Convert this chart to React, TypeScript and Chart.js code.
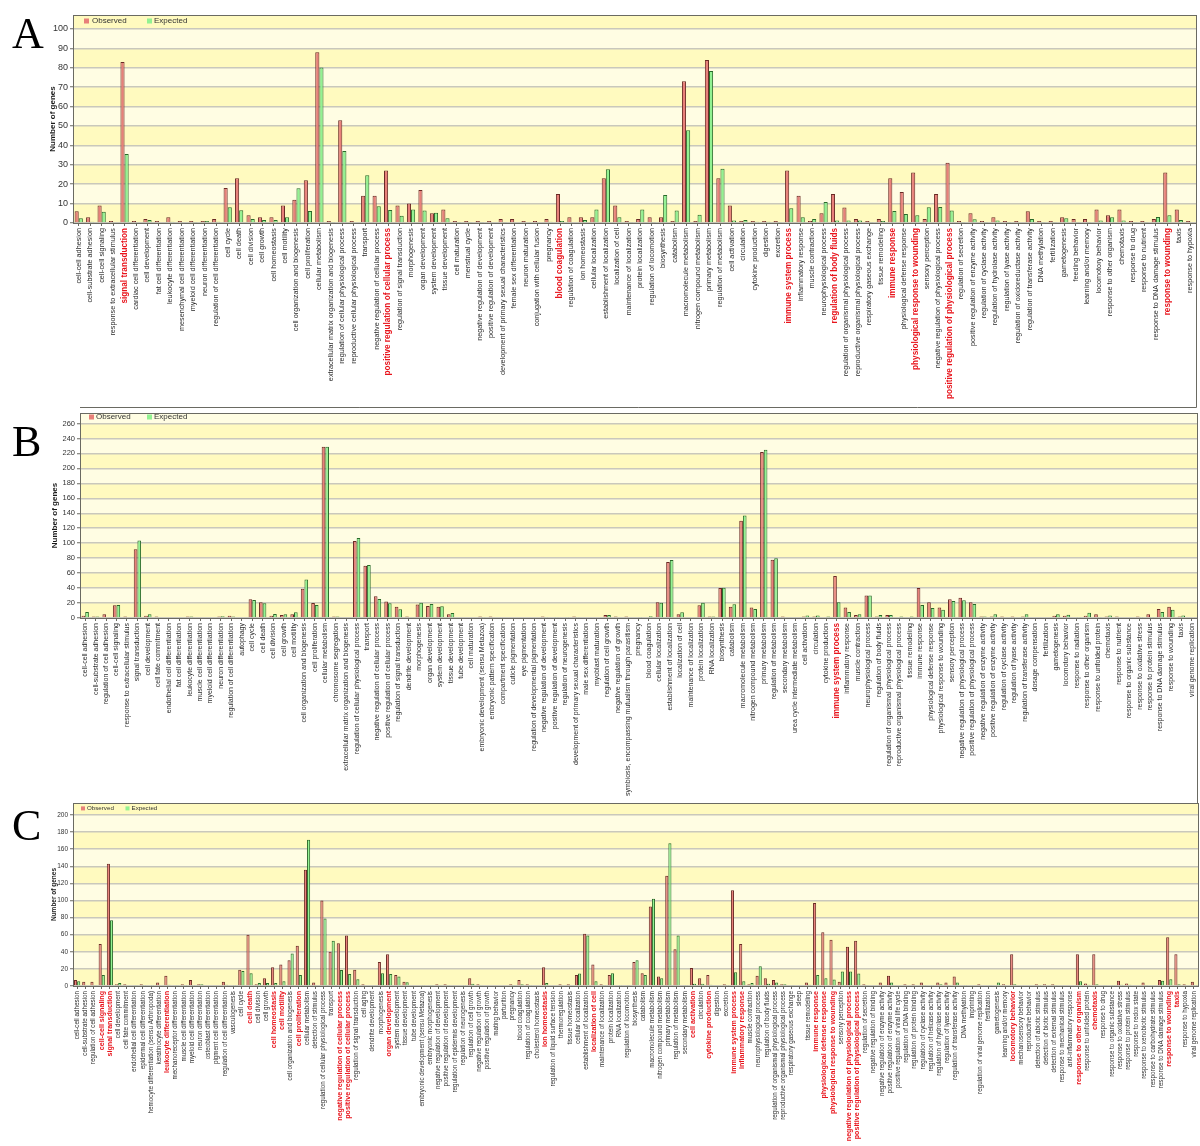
import React, { useEffect, useRef } from 'react';
import { Chart, registerables } from 'chart.js';

Chart.register(...registerables);

// ---------------- Panel A data ----------------
const categoriesA = [
  'cell-cell adhesion', 'cell-substrate adhesion', 'cell-cell signaling', 'response to extracellular stimulus', 'signal transduction',
  'cardiac cell differentiation', 'cell development', 'fat cell differentiation', 'leukocyte differentiation', 'mesenchymal cell differentiation',
  'myeloid cell differentiation', 'neuron differentiation', 'regulation of cell differentiation', 'cell cycle', 'cell death', 'cell division',
  'cell growth', 'cell homeostasis', 'cell motility', 'cell organization and biogenesis', 'cell proliferation', 'cellular metabolism',
  'extracellular matrix organization and biogenesis', 'regulation of cellular physiological process', 'reproductive cellular physiological process',
  'transport', 'negative regulation of cellular process', 'positive regulation of cellular process', 'regulation of signal transduction',
  'morphogenesis', 'organ development', 'system development', 'tissue development', 'cell maturation', 'menstrual cycle',
  'negative regulation of development', 'positive regulation of development', 'development of primary sexual characteristics',
  'female sex differentiation', 'neuron maturation', 'conjugation with cellular fusion', 'pregnancy', 'blood coagulation',
  'regulation of coagulation', 'ion homeostasis', 'cellular localization', 'establishment of localization', 'localization of cell',
  'maintenance of localization', 'protein localization', 'regulation of locomotion', 'biosynthesis', 'catabolism', 'macromolecule metabolism',
  'nitrogen compound metabolism', 'primary metabolism', 'regulation of metabolism', 'cell activation', 'circulation', 'cytokine production',
  'digestion', 'excretion', 'immune system process', 'inflammatory response', 'muscle contraction', 'neurophysiological process',
  'regulation of body fluids', 'regulation of organismal physiological process', 'reproductive organismal physiological process',
  'respiratory gaseous exchange', 'tissue remodeling', 'immune response',
  'physiological defense response', 'physiological response to wounding', 'sensory perception', 'negative regulation of physiological process',
  'positive regulation of physiological process', 'regulation of secretion', 'positive regulation of enzyme activity', 'regulation of cyclase activity',
  'regulation of hydrolase activity', 'regulation of lyase activity', 'regulation of oxidoreductase activity', 'regulation of transferase activity',
  'DNA methylation', 'fertilization', 'gametogenesis', 'feeding behavior', 'learning and/or memory', 'locomotory behavior',
  'response to other organism', 'chemotaxis', 'response to drug', 'response to nutrient', 'response to DNA damage stimulus',
  'response to wounding', 'taxis', 'response to hypoxia',
];
const observedA = [
  6, 3, 9, 1, 83, 1, 2, 1, 3, 1, 1, 1, 2, 18, 23, 4, 3, 3, 9, 12, 22, 88,
  1, 53, 1, 14, 14, 27, 9, 10, 17, 5, 7, 1, 1, 1, 1, 2, 2, 1, 1, 2, 15, 3, 3, 3, 23, 9,
  1, 2, 3, 3, 1, 73, 1, 84, 23, 9, 1, 1, 1, 1, 27, 14, 1, 5, 15, 8, 2, 1, 2, 23,
  16, 26, 2, 15, 31, 1, 5, 1, 3, 1, 1, 6, 1, 1, 3, 2, 2, 7, 4, 7, 1, 1, 2, 26, 7, 1,
];
const expectedA = [
  2.4, 0.6, 5.8, 0.4, 35.6, 0, 1.5, 0, 0.7, 0, 0.3, 1, 0.7, 8.1, 6.6, 2, 1.5, 1.5, 2.9, 17.9, 6.2, 80.2,
  0.5, 37.1, 0, 24.6, 8.6, 6.7, 3.8, 7, 6.4, 5.3, 2.4, 0.5, 0.5, 0.5, 0.4, 0.5, 0, 0, 0, 0.7, 1, 0, 1.5, 7, 27.7, 3,
  0.3, 7, 0.3, 14.4, 6.5, 47.8, 4.3, 78.4, 28, 1.3, 1.5, 0.7, 0.7, 0.3, 7.6, 3, 2, 10.8, 1.3, 1.3, 1.3, 0.3, 1, 6.2,
  4.6, 4, 8.1, 8.3, 6.5, 0.3, 1.9, 0.3, 1.3, 0.3, 0, 2, 0.3, 0.3, 2.4, 0.3, 0.3, 1.3, 3, 1.3, 0.3, 0.3, 3.1, 4, 1.5, 0,
];
const highlightA = [
  'signal transduction', 'positive regulation of cellular process', 'blood coagulation', 'immune system process',
  'regulation of body fluids', 'immune response', 'physiological response to wounding',
  'positive regulation of physiological process', 'response to wounding',
];
const yTicksA = [0, 10, 20, 30, 40, 50, 60, 70, 80, 90, 100];

// ---------------- Panel B data ----------------
const categoriesB = [
  'cell-cell adhesion', 'cell-substrate adhesion', 'regulation of cell adhesion', 'cell-cell signaling', 'response to extracellular stimulus',
  'signal transduction', 'cell development', 'cell fate commitment', 'endothelial cell differentiation', 'fat cell differentiation',
  'leukocyte differentiation', 'muscle cell differentiation', 'myeloid cell differentiation', 'neuron differentiation',
  'regulation of cell differentiation', 'autophagy', 'cell cycle', 'cell death', 'cell division', 'cell growth', 'cell motility',
  'cell organization and biogenesis', 'cell proliferation', 'cellular metabolism',
  'chromosome segregation', 'extracellular matrix organization and biogenesis', 'regulation of cellular physiological process', 'transport',
  'negative regulation of cellular process', 'positive regulation of cellular process', 'regulation of signal transduction',
  'dendrite development', 'morphogenesis', 'organ development', 'system development', 'tissue development', 'tube development',
  'cell maturation', 'embryonic development (sensu Metazoa)', 'embryonic pattern specification', 'compartment specification',
  'cuticle pigmentation', 'eye pigmentation', 'regulation of developmental pigmentation', 'negative regulation of development',
  'positive regulation of development', 'regulation of neurogenesis', 'development of primary sexual characteristics',
  'male sex differentiation', 'myoblast maturation', 'regulation of cell growth', 'negative regulation of growth',
  'symbiosis, encompassing mutualism through parasitism', 'pregnancy', 'blood coagulation', 'cellular localization',
  'establishment of localization', 'localization of cell', 'maintenance of localization', 'protein localization', 'RNA localization',
  'biosynthesis', 'catabolism', 'macromolecule metabolism', 'nitrogen compound metabolism', 'primary metabolism',
  'regulation of metabolism', 'secondary metabolism', 'urea cycle intermediate metabolism', 'cell activation', 'circulation',
  'cytokine production', 'immune system process', 'inflammatory response', 'muscle contraction', 'neurophysiological process',
  'regulation of body fluids', 'regulation of organismal physiological process', 'reproductive organismal physiological process',
  'tissue remodeling', 'immune response', 'physiological defense response', 'physiological response to wounding', 'sensory perception',
  'negative regulation of physiological process', 'positive regulation of physiological process', 'negative regulation of enzyme activity',
  'positive regulation of enzyme activity', 'regulation of cyclase activity', 'regulation of lyase activity',
  'regulation of transferase activity', 'dosage compensation', 'fertilization', 'gametogenesis', 'locomotory behavior',
  'response to radiation', 'response to other organism', 'response to unfolded protein', 'chemotaxis', 'response to nutrient',
  'response to organic substance', 'response to oxidative stress', 'response to protein stimulus', 'response to DNA damage stimulus',
  'response to wounding', 'taxis', 'viral genome replication',
];
const observedB = [
  3, 2, 5, 17, 2, 92, 3, 2, 1, 1, 2, 1, 1, 2, 3, 1, 25, 21, 3, 4, 5, 39, 20, 229,
  2, 1, 103, 70, 29, 22, 15, 2, 18, 16, 15, 5, 1, 1, 2, 2, 1, 1, 1, 1, 2, 1, 1, 2, 1, 1, 4, 2,
  2, 1, 1, 21, 75, 5, 1, 17, 2, 40, 15, 130, 14, 222, 78, 2, 1, 2, 2, 1, 56, 14, 4, 30, 2, 4, 1,
  1, 40, 21, 14, 25, 27, 21, 2, 2, 2, 2, 2, 1, 1, 3, 3, 1, 3, 5, 2, 2, 1, 2, 5, 12, 15, 2, 1,
];
const expectedB = [
  8, 2, 1, 17.5, 1, 103.5, 5, 1, 0, 0, 2, 1, 1, 2.5, 2, 1, 24, 19.6, 5.5, 5, 7.6, 51.5, 17.4, 229,
  2, 1, 107, 71, 25.4, 19.6, 11.6, 0, 20.5, 18.7, 15.6, 6.7, 0, 1, 1.5, 0, 0, 0, 0, 0, 1.5, 1.5, 1.5, 1.5, 1, 0, 4, 1,
  1, 1.5, 2.5, 20.5, 77.6, 7.6, 1, 20.5, 2, 40.5, 18.3, 137, 12, 225, 80, 1, 0, 3.5, 3.5, 2, 21, 8, 5, 30, 4, 4, 2,
  2, 17.4, 13.4, 11, 22.8, 23.6, 18.7, 2, 5, 1, 1, 5, 0, 1, 5, 4.5, 1.5, 7, 1.5, 3.5, 1, 1, 1.5, 1.5, 8, 11, 3.5, 1,
];
const highlightB = ['immune system process'];
const yTicksB = [0, 20, 40, 60, 80, 100, 120, 140, 160, 180, 200, 220, 240, 260];

// ---------------- Panel C data ----------------
const categoriesC = [
  'cell-cell adhesion', 'cell-substrate adhesion', 'regulation of cell adhesion', 'cell-cell signaling', 'signal transduction',
  'cell development', 'cell fate commitment', 'endothelial cell differentiation', 'epidermal cell differentiation',
  'hemocyte differentiation (sensu Arthropoda)', 'keratinocyte differentiation', 'leukocyte differentiation',
  'mechanoreceptor differentiation', 'muscle cell differentiation', 'myeloid cell differentiation', 'neuron differentiation',
  'osteoblast differentiation', 'pigment cell differentiation', 'regulation of cell differentiation', 'vasculogenesis', 'cell cycle',
  'cell death', 'cell division', 'cell growth', 'cell homeostasis', 'cell motility', 'cell organization and biogenesis',
  'cell proliferation', 'cellular metabolism', 'detection of stimulus', 'regulation of cellular physiological process',
  'transport', 'negative regulation of cellular process', 'positive regulation of cellular process', 'regulation of signal transduction',
  'cell aging', 'dendrite development', 'morphogenesis', 'organ development', 'system development', 'tissue development',
  'tube development', 'embryonic development (sensu Metazoa)', 'embryonic morphogenesis', 'negative regulation of development',
  'positive regulation of development', 'regulation of epidermis development', 'regulation of neurogenesis', 'regulation of cell growth',
  'negative regulation of growth', 'positive regulation of growth', 'mating behavior', 'parturition', 'pregnancy', 'blood coagulation',
  'regulation of coagulation', 'cholesterol homeostasis', 'ion homeostasis', 'regulation of liquid surface tension', 'thermoregulation',
  'tissue homeostasis', 'cellular localization', 'establishment of localization', 'localization of cell', 'maintenance of localization',
  'protein localization', 'RNA localization',
  'regulation of locomotion', 'biosynthesis', 'catabolism', 'macromolecule metabolism', 'nitrogen compound metabolism',
  'primary metabolism', 'regulation of metabolism', 'secondary metabolism', 'cell activation', 'circulation', 'cytokine production',
  'digestion', 'excretion', 'immune system process', 'inflammatory response', 'muscle contraction', 'neurophysiological process',
  'regulation of body fluids', 'regulation of organismal physiological process', 'reproductive organismal physiological process',
  'respiratory gaseous exchange', 'sleep', 'tissue remodeling', 'immune response', 'physiological defense response',
  'physiological response to wounding', 'sensory perception', 'negative regulation of physiological process',
  'positive regulation of physiological process', 'regulation of secretion', 'negative regulation of binding',
  'negative regulation of enzyme activity', 'positive regulation of enzyme activity', 'positive regulation of viral life cycle',
  'regulation of DNA binding',
  'regulation of protein binding', 'regulation of cyclase activity', 'regulation of helicase activity', 'regulation of hydrolase activity',
  'regulation of lyase activity', 'regulation of transferase activity', 'DNA methylation', 'imprinting',
  'regulation of viral genome replication', 'fertilization', 'gametogenesis', 'learning and/or memory', 'locomotory behavior',
  'mechanosensory behavior', 'reproductive behavior', 'detection of abiotic stimulus', 'detection of biotic stimulus',
  'detection of external stimulus', 'response to mechanical stimulus', 'anti-inflammatory response', 'response to other organism',
  'response to unfolded protein', 'chemotaxis', 'response to drug', 'response to organic substance', 'response to oxidative stress',
  'response to protein stimulus', 'response to redox state', 'response to xenobiotic stimulus', 'response to carbohydrate stimulus',
  'response to DNA damage stimulus', 'response to wounding', 'taxis', 'response to hypoxia', 'viral genome replication',
];
const observedC = [
  7, 5, 5, 49, 143, 2, 2, 1, 2, 1, 4, 12, 1, 2, 7, 2, 1, 1, 5, 1, 19, 60, 2, 9, 22, 25, 30, 47, 136, 4, 100,
  40, 50, 59, 19, 2, 1, 28, 37, 13, 5, 1, 1, 1, 2, 2, 1, 1, 9, 2, 1, 1, 1, 2, 7, 2, 1, 22, 1, 2, 2, 13, 61, 25, 2, 13, 1,
  1, 28, 15, 93, 11, 129, 43, 1, 21, 9, 13, 1, 2, 112, 49, 2, 12, 9, 7, 2, 1, 1, 4, 97, 63, 54, 5, 46, 53, 2, 1, 4, 12, 1, 2,
  2, 4, 1, 4, 4, 11, 1, 1, 2, 1, 1, 2, 37, 1, 1, 2, 2, 2, 1, 1, 37, 3, 37, 1, 1, 6, 3, 1, 4, 1, 7, 57, 37, 2, 5,
];
const expectedC = [
  5.5, 1, 0.5, 13, 77, 3.5, 1, 0.5, 0.5, 0.5, 1, 1.5, 0.5, 0.5, 0.5, 2, 0, 0, 1.5, 0.5, 17.5, 15, 3.5, 3.5, 3.5, 5.5, 38, 13, 171, 1, 79,
  53, 18.7, 14, 7.8, 0, 0, 15, 14, 11, 4.5, 0, 0.5, 0.5, 0.5, 0.5, 0, 0.5, 2.5, 0.5, 0, 0, 0, 0.5, 2, 0.5, 0, 3.5, 0, 0, 0, 14.5, 59, 5.5, 0.5, 15, 0.5,
  0.5, 30, 13, 102, 9, 167, 59, 0.5, 2.5, 2.5, 1.5, 1, 0.5, 16, 5.5, 3.5, 23, 2.5, 4, 2, 0.5, 0, 1.5, 13, 9, 7.5, 17, 17, 14.5, 0.5, 0, 1, 4, 0, 0,
  0, 0.5, 0.5, 2, 0.5, 4, 0.5, 0, 0, 0.5, 4, 1, 2, 0, 0, 0.5, 0, 0.5, 0, 0, 5.5, 1.5, 2, 0.5, 0.5, 1.5, 1.5, 0, 0.5, 0, 6, 8, 2, 0, 0.5,
];
const highlightC = [
  'cell-cell signaling', 'signal transduction', 'leukocyte differentiation', 'cell death', 'cell homeostasis', 'cell motility',
  'cell proliferation', 'negative regulation of cellular process', 'positive regulation of cellular process', 'organ development',
  'ion homeostasis', 'localization of cell', 'cell activation', 'cytokine production', 'immune system process', 'inflammatory response',
  'immune response', 'physiological defense response', 'physiological response to wounding',
  'negative regulation of physiological process', 'positive regulation of physiological process', 'locomotory behavior',
  'response to other organism', 'chemotaxis', 'response to wounding', 'taxis',
];
const yTicksC = [0, 20, 40, 60, 80, 100, 120, 140, 160, 180, 200];

const seriesNames = ['Observed', 'Expected'];
const yAxisTitle = 'Number of genes';

// ---------------- styles ----------------
const FONT = "'Liberation Sans', Arial, sans-serif";
const OBS_FILL = '#e8807a';
const OBS_LINE = '#6a2a25';
const EXP_FILL = '#92f292';
const EXP_LINE = '#2a6a2a';
const HL_RED = '#e8141c';
const BAND_DARK = '#fffabf';
const BAND_LIGHT = '#fffde3';
const GRID = '#c9c8bc';
const FRAME = '#6a6a62';

type PanelSpec = {
  letter: string;
  categories: string[];
  observed: number[];
  expected: number[];
  highlight: string[];
  yTicks: number[];
  yMax: number;
  top: number;
  height: number;
  plotLeft: number;
  plotRight: number;
  plotTop: number;
  plotBottom: number;
  labelFont: number;
  boldFont: number;
  tickFont: number;
  titleFont: number;
  titleX: number;
  legendFont: number;
  legendBox: number;
  legendY: number;
  legendXs: number[];
  catPct: number;
  outer: { left: number; bottom: number } | null;
  letterTop: number;
};

const panels: PanelSpec[] = [
  {
    letter: 'A', categories: categoriesA, observed: observedA, expected: expectedA, highlight: highlightA, yTicks: yTicksA,
    yMax: 107.2, top: 0, height: 410, plotLeft: 73, plotRight: 1196, plotTop: 15, plotBottom: 223,
    labelFont: 7.25, boldFont: 8.2, tickFont: 9, titleFont: 8, titleX: 53, legendFont: 8, legendBox: 5, legendY: 6, legendXs: [11, 19, 74, 81],
    catPct: 0.72, outer: { left: 80, bottom: 407 }, letterTop: 12,
  },
  {
    letter: 'B', categories: categoriesB, observed: observedB, expected: expectedB, highlight: highlightB, yTicks: yTicksB,
    yMax: 274, top: 408, height: 397, plotLeft: 80, plotRight: 1197, plotTop: 413, plotBottom: 618,
    labelFont: 7.0, boldFont: 8.2, tickFont: 7.5, titleFont: 8, titleX: 55, legendFont: 8, legendBox: 5, legendY: 4, legendXs: [9, 16, 67, 74],
    catPct: 0.7, outer: { left: 74, bottom: 803 }, letterTop: 420,
  },
  {
    letter: 'C', categories: categoriesC, observed: observedC, expected: expectedC, highlight: highlightC, yTicks: yTicksC,
    yMax: 214, top: 796, height: 350, plotLeft: 73, plotRight: 1198, plotTop: 803, plotBottom: 986,
    labelFont: 6.3, boldFont: 7.1, tickFont: 6.5, titleFont: 6.5, titleX: 54.5, legendFont: 6.2, legendBox: 4, legendY: 5.4, legendXs: [8, 14, 52.5, 58.5],
    catPct: 0.76, outer: null, letterTop: 804,
  },
];

const decoPlugin = {
  id: 'deco',
  beforeDraw(chart: any, _a: any, opts: any) {
    const { ctx, chartArea, scales } = chart;
    const { left, right, top, bottom } = chartArea;
    const y = scales.y;
    ctx.save();
    ctx.fillStyle = BAND_LIGHT;
    ctx.fillRect(left, top, right - left, bottom - top);
    const t: number[] = opts.ticks;
    for (let i = 0; i < t.length; i++) {
      if (i % 2 !== 0) continue;
      const v1 = i + 1 < t.length ? t[i + 1] : y.max;
      const p0 = y.getPixelForValue(t[i]);
      const p1 = y.getPixelForValue(v1);
      ctx.fillStyle = BAND_DARK;
      ctx.fillRect(left, p1, right - left, p0 - p1);
    }
    ctx.restore();
  },
  afterDraw(chart: any, _a: any, opts: any) {
    const { ctx, chartArea } = chart;
    const { left, right, top, bottom } = chartArea;
    const spec: PanelSpec = opts.spec;
    ctx.save();
    ctx.strokeStyle = FRAME;
    ctx.lineWidth = 1;
    ctx.strokeRect(Math.round(left) + 0.5, Math.round(top) + 0.5, Math.round(right - left), Math.round(bottom - top));
    if (spec.outer) {
      const ob = spec.outer.bottom - spec.top;
      ctx.beginPath();
      ctx.moveTo(Math.round(right) + 0.5, bottom);
      ctx.lineTo(Math.round(right) + 0.5, ob + 0.5);
      ctx.lineTo(spec.outer.left, ob + 0.5);
      ctx.stroke();
    }
    // legend
    const [bx1, tx1, bx2, tx2] = spec.legendXs;
    const cy = top + spec.legendY;
    const b = spec.legendBox;
    ctx.font = `${spec.legendFont}px ${FONT}`;
    ctx.textBaseline = 'middle';
    ctx.textAlign = 'left';
    ctx.fillStyle = OBS_FILL;
    ctx.fillRect(left + bx1, cy - b / 2, b, b);
    ctx.fillStyle = '#333';
    ctx.fillText(seriesNames[0], left + tx1, cy);
    ctx.fillStyle = EXP_FILL;
    ctx.fillRect(left + bx2, cy - b / 2, b, b);
    ctx.fillStyle = '#333';
    ctx.fillText(seriesNames[1], left + tx2, cy);
    ctx.restore();
  },
};

function Panel({ spec }: { spec: PanelSpec }) {
  const ref = useRef<HTMLCanvasElement | null>(null);
  useEffect(() => {
    if (!ref.current) return;
    const hl = new Set(spec.highlight);
    const cats = spec.categories;
    const chart = new Chart(ref.current, {
      type: 'bar',
      data: {
        labels: cats,
        datasets: [
          {
            label: seriesNames[0], data: spec.observed, backgroundColor: OBS_FILL, borderColor: OBS_LINE, borderWidth: 1,
            borderSkipped: 'bottom', categoryPercentage: spec.catPct, barPercentage: 1,
          },
          {
            label: seriesNames[1], data: spec.expected, backgroundColor: EXP_FILL, borderColor: EXP_LINE, borderWidth: 1,
            borderSkipped: 'bottom', categoryPercentage: spec.catPct, barPercentage: 1,
          },
        ],
      },
      options: {
        animation: false,
        responsive: false,
        devicePixelRatio: 1,
        layout: { padding: { left: 0, right: 1200 - spec.plotRight, top: spec.plotTop - spec.top, bottom: 0 } },
        plugins: {
          legend: { display: false },
          tooltip: { enabled: false },
          deco: { ticks: spec.yTicks, spec },
        } as any,
        scales: {
          x: {
            type: 'category',
            offset: true,
            grid: { display: true, drawOnChartArea: false, drawTicks: true, tickLength: 3, tickColor: FRAME, offset: false },
            border: { display: true, color: FRAME, width: 1 },
            ticks: {
              autoSkip: false,
              minRotation: 90,
              maxRotation: 90,
              padding: 2,
              font: (c: any) =>
                hl.has(cats[c.index])
                  ? { family: FONT, size: spec.boldFont, weight: 'bold' }
                  : { family: FONT, size: spec.labelFont, weight: 'normal' },
              color: (c: any) => (hl.has(cats[c.index]) ? HL_RED : '#2a2a2a'),
            },
            afterFit: (s: any) => {
              s.height = spec.top + spec.height - spec.plotBottom;
              s.paddingLeft = 0;
              s.paddingRight = 0;
            },
          },
          y: {
            type: 'linear',
            min: 0,
            max: spec.yMax,
            afterBuildTicks: (s: any) => {
              s.ticks = spec.yTicks.map((v) => ({ value: v }));
            },
            grid: { color: GRID, lineWidth: 1.5, tickColor: FRAME, tickLength: 3, tickWidth: 1 },
            border: { display: true, color: FRAME, width: 1 },
            ticks: { font: { family: FONT, size: spec.tickFont }, color: '#333', padding: 2 },
            title: {
              display: true,
              text: yAxisTitle,
              font: { family: FONT, size: spec.titleFont, weight: 'bold' },
              color: '#1a1a1a',
              padding: { top: spec.titleX - spec.titleFont * 0.6, bottom: 0 },
            },
            afterFit: (s: any) => {
              s.width = spec.plotLeft;
              s.paddingTop = 0;
              s.paddingBottom = 0;
            },
          },
        },
      } as any,
      plugins: [decoPlugin as any],
    });
    return () => chart.destroy();
  }, [spec]);

  return (
    <>
      <canvas
        ref={ref}
        width={1200}
        height={spec.height}
        style={{ position: 'absolute', left: 0, top: spec.top, width: 1200, height: spec.height }}
      />
      <div
        style={{
          position: 'absolute', left: 12, top: spec.letterTop, fontFamily: "'Liberation Serif', 'Times New Roman', serif",
          fontSize: 44, lineHeight: '44px', color: '#000',
        }}
      >
        {spec.letter}
      </div>
    </>
  );
}

export default function App() {
  return (
    <div style={{ position: 'absolute', left: 0, top: 0, width: 1200, height: 1146, background: '#fff', overflow: 'hidden' }}>
      {panels.map((p) => (
        <Panel key={p.letter} spec={p} />
      ))}
    </div>
  );
}
